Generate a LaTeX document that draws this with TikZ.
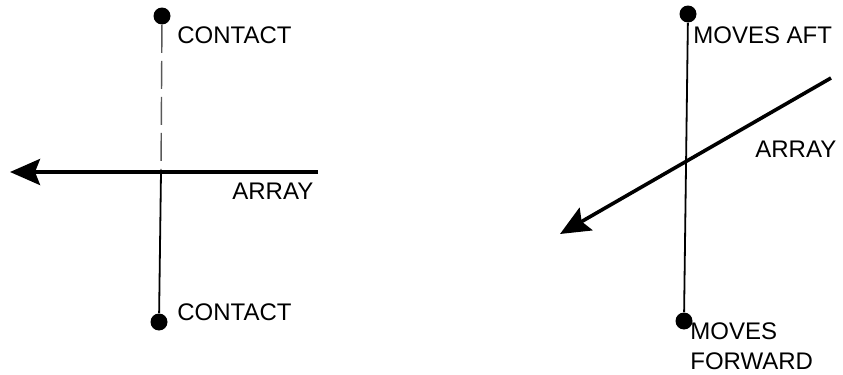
\documentclass[tikz,border=0pt]{standalone}
\usepackage{fontspec}
\setmainfont{Liberation Sans}
\usetikzlibrary{arrows.meta}

\begin{document}
\begin{tikzpicture}[
  x=0.5pt, y=-0.5pt,
  every node/.style={font=\fontsize{12}{15}\selectfont, inner sep=0pt},
  endpt/.style={circle, fill, minimum size=8.5pt},
  lbl/.style={anchor=west},
  arr/.style={-{Stealth[length=15pt, width=13pt, inset=2.5pt]}, line width=1.8pt},
  rod/.style={line width=0.9pt},
  faint/.style={line width=0.7pt, black!65, dash pattern=on 14pt off 4pt}
]
  \useasboundingbox (0,0) rectangle (843,375);

  % left: array square to the contact line
  \node[endpt] (ltop) at (162,16) {};
  \node[endpt] (lbot) at (159,322) {};
  \coordinate (lx) at (161,172);
  \coordinate (la) at (318,172);
  \coordinate (lb) at (10,172);
  \draw[faint] (ltop) -- (lx);
  \draw[rod] (lx) -- (lbot);
  \draw[arr] (la) -- (lb);

  \node[lbl] (ltoptxt) at (177,35)  {CONTACT};
  \node[lbl] (lbottxt) at (177,312) {CONTACT};
  \node[lbl] (larrtxt) at (232,191) {ARRAY};

  % right: array at an angle
  \node[endpt] (rtop) at (688,14) {};
  \node[endpt] (rbot) at (684,321) {};
  \coordinate (ra) at (831,78);
  \coordinate (rb) at (560,234);
  \draw[rod] (rtop) -- (rbot);
  \draw[arr] (ra) -- (rb);

  \node[lbl] (rtoptxt) at (693,35)  {MOVES AFT};
  \node[lbl] (rarrtxt) at (755,149) {ARRAY};
  \node[anchor=north west, align=left] (rbottxt) at (690,322) {MOVES\\FORWARD};
\end{tikzpicture}
\end{document}
